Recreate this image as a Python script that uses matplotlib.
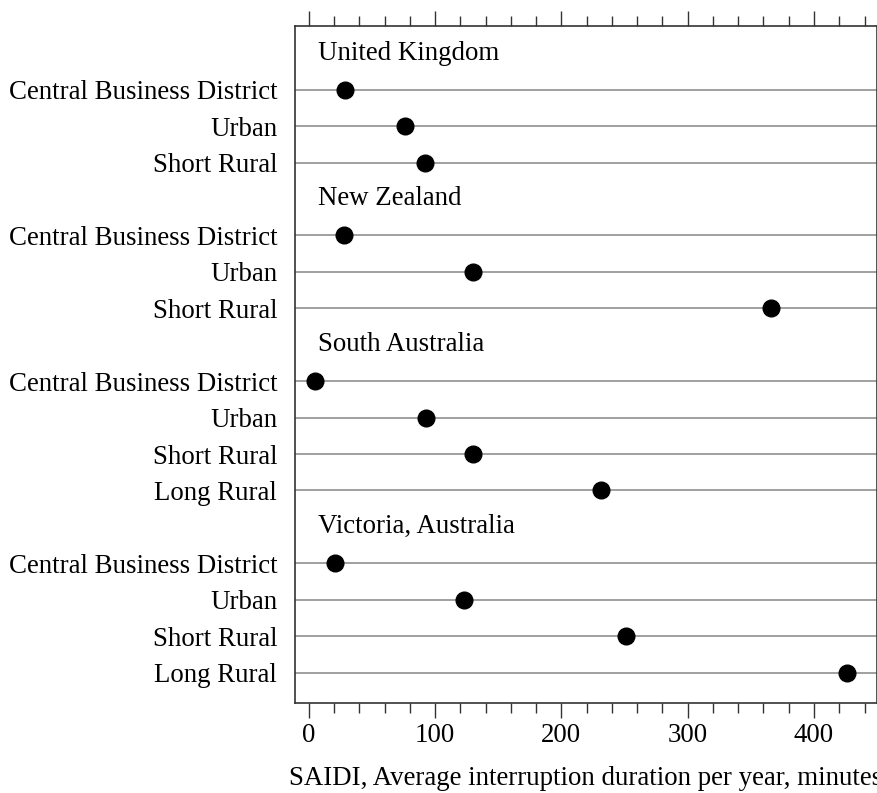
import matplotlib
matplotlib.use("Agg")
import matplotlib.pyplot as plt
from matplotlib.ticker import MultipleLocator

plt.rcParams['font.family'] = ['Liberation Serif', 'DejaVu Serif']

groups = ["United Kingdom", "New Zealand", "South Australia", "Victoria, Australia"]
uk_categories = ["Central Business District", "Urban", "Short Rural"]
uk_values = [29, 76, 92]
nz_categories = ["Central Business District", "Urban", "Short Rural"]
nz_values = [28, 130, 366]
sa_categories = ["Central Business District", "Urban", "Short Rural", "Long Rural"]
sa_values = [5, 93, 130, 231]
vic_categories = ["Central Business District", "Urban", "Short Rural", "Long Rural"]
vic_values = [21, 123, 251, 426]

group_cats = [uk_categories, nz_categories, sa_categories, vic_categories]
group_vals = [uk_values, nz_values, sa_values, vic_values]

FS = 19.4

fig = plt.figure(figsize=(8.78, 7.93), dpi=100)
W, H = 878, 793
left, right, top, bottom = 294.5, 876.5, 26.3, 703.2
ax = fig.add_axes([left / W, 1 - bottom / H, (right - left) / W, (bottom - top) / H])

row = 0
ytick_pos, ytick_lab = [], []
label_rows = []
for g, cats, vals in zip(groups, group_cats, group_vals):
    label_rows.append((row, g))
    row += 1
    for c, v in zip(cats, vals):
        ax.axhline(row, color='#999999', lw=1.3, zorder=1)
        ax.plot([v], [row], 'o', color='black', ms=12, zorder=3)
        ytick_pos.append(row)
        ytick_lab.append(c)
        row += 1

for r, g in label_rows:
    ax.text(23 / (right - left), r, g, transform=ax.get_yaxis_transform(),
            ha='left', va='center', fontsize=FS)

ax.set_xlim(-11.3, 449.5)
ax.set_ylim(row - 1 + 0.84, -0.74)
ax.set_yticks(ytick_pos)
ax.set_yticklabels(ytick_lab, fontsize=FS)
ax.tick_params(axis='y', length=0, pad=12.5)

ax.xaxis.set_major_locator(MultipleLocator(100))
ax.xaxis.set_minor_locator(MultipleLocator(20))
ax.tick_params(axis='x', which='both', top=True, bottom=True, direction='out',
               labelsize=FS, color='#333333')
ax.tick_params(axis='x', which='major', length=10.5, width=1, pad=4)
ax.tick_params(axis='x', which='minor', length=7.5, width=1)

for s in ax.spines.values():
    s.set_color('#333333')
    s.set_linewidth(1.2)

ax.set_xlabel("SAIDI, Average interruption duration per year, minutes", fontsize=FS, labelpad=13)

fig.savefig("out.png", dpi=100)
